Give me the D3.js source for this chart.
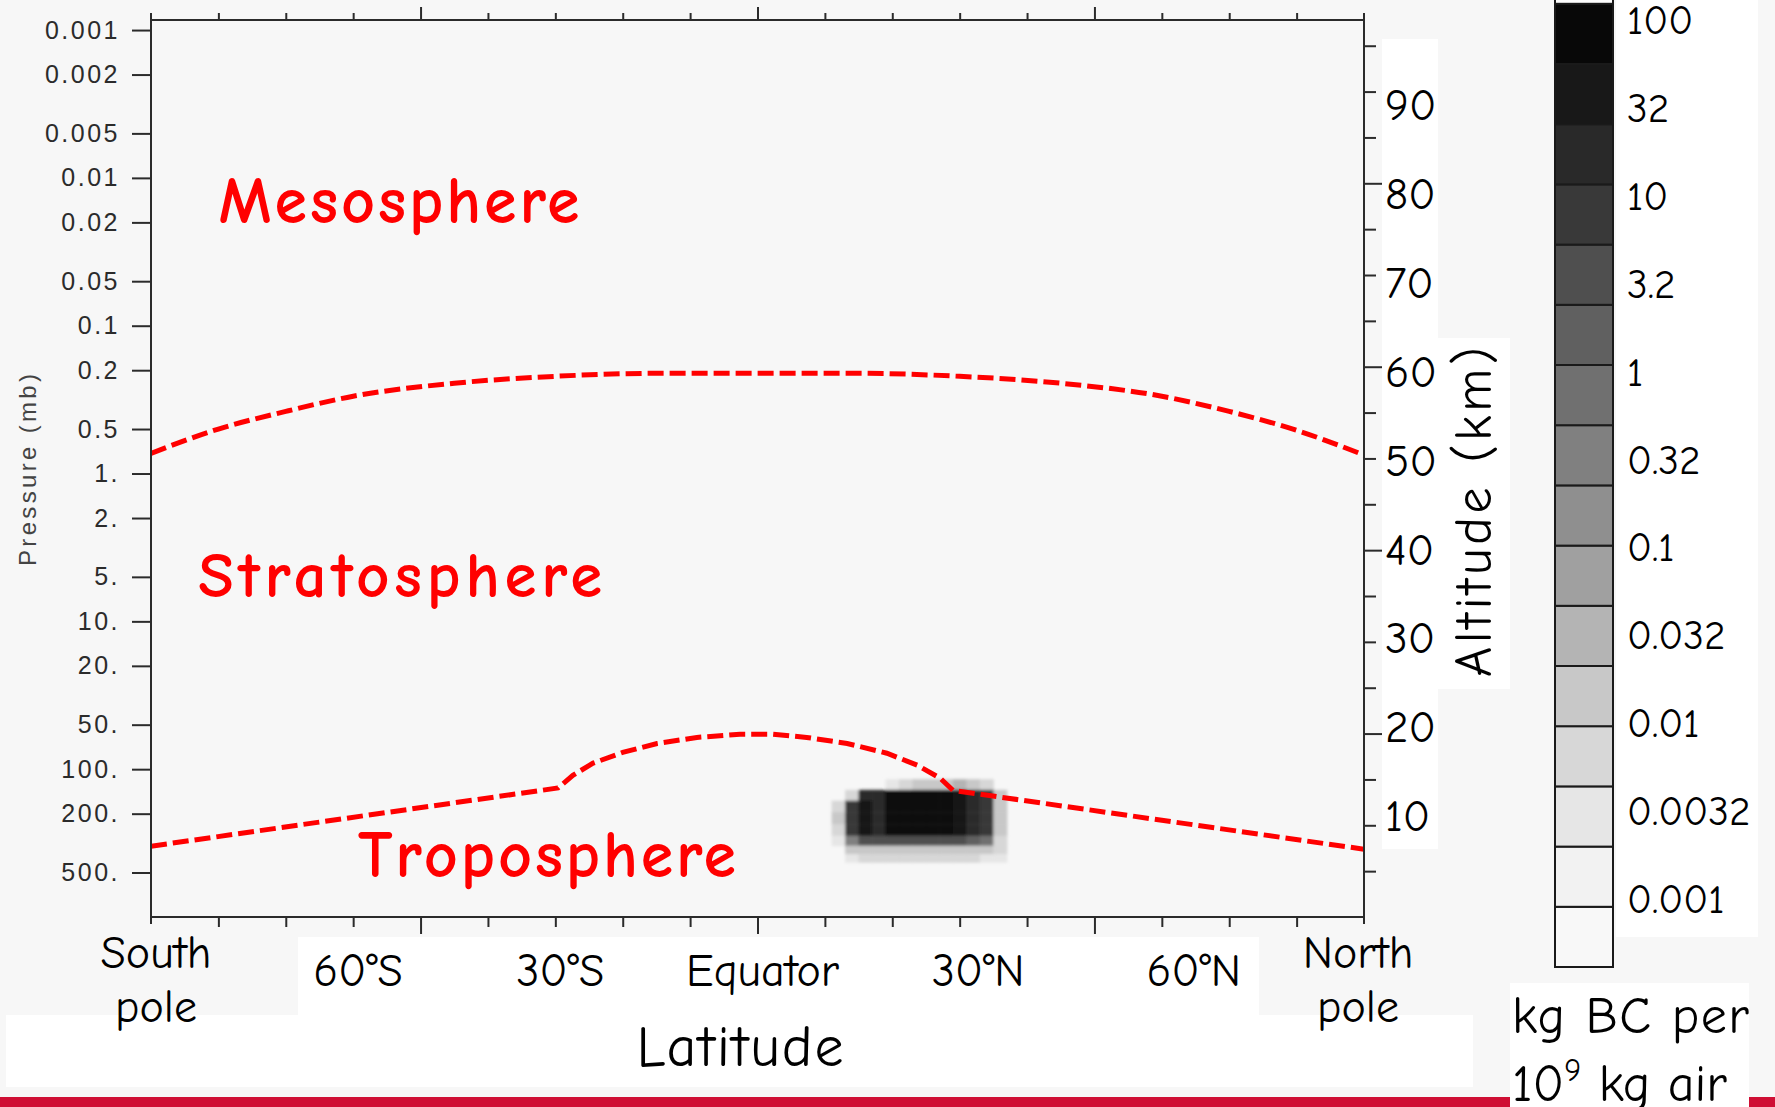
<!DOCTYPE html>
<html><head><meta charset="utf-8">
<script src="https://cdn.jsdelivr.net/npm/d3@7"></script>
<style>
html,body{margin:0;padding:0;background:#f7f7f7;overflow:hidden}
svg{display:block}
</style></head><body>
<svg id="chart" width="1775" height="1107"></svg>
<script>
// ---------------- data ----------------
const pressureTicks = [0.001,0.002,0.005,0.01,0.02,0.05,0.1,0.2,0.5,1,2,5,10,20,50,100,200,500];
const pressureTickLabels = ["0.001","0.002","0.005","0.01","0.02","0.05","0.1","0.2","0.5","1.","2.","5.","10.","20.","50.","100.","200.","500."];
const altitudeLabels = [90,80,70,60,50,40,30,20,10];
const latLabelValues = [-90,-60,-30,0,30,60,90];
const latLabelText = [["South","pole"],["60°S"],["30°S"],["Equator"],["30°N"],["60°N"],["North","pole"]];

// stratopause (upper dashed line): latitude (deg) and pressure (mb)
const stratopauseLat = [-90,-80,-70,-60,-45,-30,-15,0,15,30,45,60,70,80,90];
const stratopauseP   = [0.73,0.50,0.38,0.30,0.245,0.22,0.21,0.21,0.21,0.22,0.245,0.30,0.38,0.51,0.75];
// tropopause (lower dashed line)
const tropopauseLat = [-90,-29.6,-27.4,-24.4,-20,-14.9,-9,-2.6,2.3,7.3,13.3,19.2,23.7,27.1,29,90];
const tropopauseP   = [332,134,110,91,77,67,61,58,58,61,67,78,94,115,139,348];

// black carbon field (kg BC per 1e9 kg air)
const bcLat = [12,14,16,18,20,22,24,26,28,30,32,34,36];
const bcPressure = [127,150,178,215,259,307,353,400];
const bcValues = [
  [0,     0,     0,     0,     0.004, 0.008, 0.01,  0.012, 0.02,  0.03,  0.02,  0.006, 0    ],
  [0,     0.006, 15,    20,    80,    80,    80,    80,    80,    35,    15,    8,     0.01 ],
  [0.008, 8,     30,    15,    80,    80,    80,    80,    80,    35,    15,    7,     0.015],
  [0.01,  8,     30,    15,    80,    80,    80,    80,    80,    35,    15,    7,     0.015],
  [0.008, 7,     25,    15,    80,    80,    80,    80,    80,    35,    15,    6,     0.012],
  [0.004, 0.4,   3,     3,     5,     5,     5,     5,     5,     3,     2,     0.5,   0.008],
  [0,     0.01,  0.015, 0.015, 0.015, 0.015, 0.015, 0.015, 0.015, 0.015, 0.012, 0.01,  0.006],
  [0,     0.004, 0.005, 0.005, 0.005, 0.005, 0.005, 0.005, 0.005, 0.005, 0.005, 0.004, 0.003]
];

// colour bar
const legendThresholds = [0.0009,0.002,0.0043,0.0095,0.021,0.045,0.1,0.22,0.49,1.07,2.3,5.2,11.3,25,54,122];
const legendColors = ["#f8f8f8","#f2f2f2","#e6e6e6","#d7d7d7","#c8c8c8","#b4b4b4","#a0a0a0","#8f8f8f","#808080","#707070","#606060","#4f4f4f","#393939","#292929","#181818","#080808","#fdfdfd"];
const legendLabels = ["100","32","10","3.2","1","0.32","0.1","0.032","0.01","0.0032","0.001"];

// ---------------- drawing ----------------
const svg = d3.select("#chart");
const comic = '"Comic Sans MS","Comic Neue","Open Sans",sans-serif';
const L = 151, R = 1364, T = 20, B = 917;

const x = d3.scaleLinear().domain([-90, 90]).range([L, R]);
const y = d3.scaleLog().domain([0.000855, 1000]).range([T, B]);
// log-pressure altitude (scale height 7 km) for the right-hand tick marks
const zAlt = d3.scaleLinear().domain([0, 7 * Math.log(1000 / 0.000855)]).range([B, T]);
const altLabelY = d3.scaleLinear().domain([10, 90]).range([815, 104]);
const color = d3.scaleThreshold().domain(legendThresholds).range(legendColors);

svg.append("rect").attr("width", 1775).attr("height", 1107).attr("fill", "#f7f7f7");
// footer bar
svg.append("rect").attr("x", 0).attr("y", 1097).attr("width", 1775).attr("height", 10).attr("fill", "#cf0e34");

// white label panels
const panels = [[1382,39,56,810],[1382,338,128,351],[298,937,961,78],[6,1015,1467,72],[1616,0,142,937],[1510,983,239,124]];
svg.selectAll("rect.panel").data(panels).join("rect").attr("class","panel")
  .attr("x", d => d[0]).attr("y", d => d[1]).attr("width", d => d[2]).attr("height", d => d[3])
  .attr("fill", "#ffffff");

// clip + blur
const defs = svg.append("defs");
defs.append("clipPath").attr("id", "plotclip").append("rect")
  .attr("x", L).attr("y", T).attr("width", R - L).attr("height", B - T);
defs.append("filter").attr("id", "soft").attr("x", "-20%").attr("y", "-20%").attr("width", "140%").attr("height", "140%")
  .append("feGaussianBlur").attr("stdDeviation", 1.8);

// heat cells
const dLat = bcLat[1] - bcLat[0];
const nP = bcPressure.length;
const pEdges = bcPressure.map((p, i) => {
  const prev = i > 0 ? bcPressure[i - 1] : p * p / bcPressure[i + 1];
  return Math.sqrt(prev * p);
});
pEdges.push(Math.sqrt(bcPressure[nP - 1] * (bcPressure[nP - 1] ** 2 / bcPressure[nP - 2])));
const cells = [];
bcValues.forEach((row, r) => row.forEach((v, c) => {
  if (v > 0) cells.push({lat: bcLat[c], r, v});
}));
svg.append("g").attr("clip-path", "url(#plotclip)").append("g").attr("filter", "url(#soft)")
  .selectAll("rect").data(cells).join("rect")
  .attr("x", d => x(d.lat - dLat / 2))
  .attr("width", d => x(d.lat + dLat / 2) - x(d.lat - dLat / 2) + 0.5)
  .attr("y", d => y(pEdges[d.r]))
  .attr("height", d => y(pEdges[d.r + 1]) - y(pEdges[d.r]) + 0.5)
  .attr("fill", d => color(d.v));

// dashed boundary lines
const smooth = d3.line().x(d => x(d[0])).y(d => y(d[1])).curve(d3.curveMonotoneX);
const straight = d3.line().x(d => x(d[0])).y(d => y(d[1]));
const lines = svg.append("g").attr("clip-path", "url(#plotclip)");
[[stratopauseLat, stratopauseP, smooth], [tropopauseLat, tropopauseP, straight]].forEach(([la, pr, gen]) => {
  lines.append("path").attr("d", gen(la.map((v, i) => [v, pr[i]])))
    .attr("fill", "none").attr("stroke", "#ff0000").attr("stroke-width", 5)
    .attr("stroke-dasharray", "16,6");
});

// axes
const axCol = "#2b2b2b";
const latTicks = d3.range(-80, 90, 10);
const gB = svg.append("g").attr("transform", `translate(0,${B})`)
  .call(d3.axisBottom(x).tickValues(latTicks).tickFormat("").tickSizeOuter(0));
gB.selectAll(".tick line").attr("y2", d => d % 50 === 0 ? 17 : 10);
const gT = svg.append("g").attr("transform", `translate(0,${T})`)
  .call(d3.axisTop(x).tickValues(latTicks).tickFormat("").tickSizeOuter(0));
gT.selectAll(".tick line").attr("y2", d => d % 50 === 0 ? -13 : -7);
const gL = svg.append("g").attr("transform", `translate(${L},0)`)
  .call(d3.axisLeft(y).tickValues(pressureTicks).tickSize(19).tickPadding(12)
    .tickFormat((d, i) => pressureTickLabels[i]));
gL.selectAll(".tick text").attr("font-family", '"Liberation Sans",Arial,sans-serif')
  .attr("font-size", 25).attr("letter-spacing", 2.5).attr("fill", axCol);
const gR = svg.append("g").attr("transform", `translate(${R},0)`)
  .call(d3.axisRight(zAlt).tickValues(d3.range(5, 100, 5)).tickFormat("").tickSizeOuter(0));
gR.selectAll(".tick line").attr("x2", d => d % 20 === 0 ? 18 : 12);
[gB, gT, gL, gR].forEach(g => {
  g.select(".domain").remove();
  g.selectAll(".tick line").attr("stroke", axCol).attr("stroke-width", 2);
});
// frame
const frame = svg.append("g").attr("stroke", axCol).attr("stroke-width", 2);
frame.append("line").attr("x1", L).attr("x2", R).attr("y1", T).attr("y2", T);
frame.append("line").attr("x1", L).attr("x2", R).attr("y1", B).attr("y2", B);
frame.append("line").attr("x1", L).attr("x2", L).attr("y1", T - 7).attr("y2", B + 7);
frame.append("line").attr("x1", R).attr("x2", R).attr("y1", T - 7).attr("y2", B + 7);

// left axis title
svg.append("text").attr("transform", "translate(36,470) rotate(-90)")
  .attr("text-anchor", "middle").attr("font-family", '"Liberation Sans",Arial,sans-serif')
  .attr("font-size", 24).attr("fill", "#444").attr("textLength", 192).attr("lengthAdjust", "spacing")
  .text("Pressure (mb)");

// region names
const region = (txt, lat, p, size, len) => svg.append("text")
  .attr("x", x(lat)).attr("y", y(p)).attr("font-family", comic).attr("font-weight", 600)
  .attr("font-size", size).attr("fill", "#ff0000").attr("textLength", len).attr("lengthAdjust", "spacing")
  .text(txt);
region("Mesosphere", -80, 0.0202, 66, 361);
region("Stratosphere", -83, 6.86, 65, 404);
region("Troposphere", -59.3, 538, 66, 378);

// latitude labels
const latG = svg.append("g").attr("font-family", comic).attr("font-size", 46).attr("fill", "#000").attr("text-anchor", "middle");
latLabelValues.forEach((v, i) => {
  const t = latLabelText[i];
  const cx = x(v) + (v > 0 && v < 90 ? 5 + v * 0.45 : (v === 90 ? -6 : 5));
  if (t.length === 2) {
    latG.append("text").attr("x", cx).attr("y", 968).text(t[0]);
    latG.append("text").attr("x", cx).attr("y", 1022).text(t[1]);
  } else {
    latG.append("text").attr("x", cx).attr("y", 986).text(t[0]);
  }
});
svg.append("text").attr("x", 740).attr("y", 1066).attr("text-anchor", "middle")
  .attr("font-family", comic).attr("font-size", 58).attr("fill", "#000")
  .attr("textLength", 207).attr("lengthAdjust", "spacing").text("Latitude");

// altitude labels
svg.append("g").selectAll("text").data(altitudeLabels).join("text")
  .attr("x", 1385).attr("y", d => altLabelY(d)).attr("dy", "0.36em")
  .attr("font-family", comic).attr("font-size", 45).attr("fill", "#000").text(d => d);
svg.append("text").attr("transform", "translate(1491,512) rotate(-90)")
  .attr("text-anchor", "middle").attr("font-family", comic).attr("font-size", 52).attr("fill", "#000")
  .attr("textLength", 330).attr("lengthAdjust", "spacing").text("Altitude (km)");

// colour bar (index 0 = lowest level, drawn at the bottom)
const band = d3.scaleBand().domain(d3.range(legendColors.length)).range([967, 967 - 60.2 * legendColors.length]);
svg.append("g").selectAll("rect").data(legendColors).join("rect")
  .attr("x", 1555).attr("width", 58)
  .attr("y", (d, i) => band(i))
  .attr("height", band.bandwidth())
  .attr("fill", d => d).attr("stroke", "#1a1a1a").attr("stroke-width", 2);
const labY = d3.scalePoint().domain(legendLabels).range([19.5, 898]);
svg.append("g").selectAll("text").data(legendLabels).join("text")
  .attr("x", 1627).attr("y", d => labY(d)).attr("dy", "0.36em")
  .attr("font-family", comic).attr("font-size", 41).attr("fill", "#000").text(d => d);

// unit label
const u = svg.append("g").attr("font-family", comic).attr("font-size", 52).attr("fill", "#000");
u.append("text").attr("x", 1512).attr("y", 1033).attr("textLength", 237).attr("lengthAdjust", "spacing").text("kg BC per");
const u2 = u.append("text").attr("x", 1512).attr("y", 1101);
u2.append("tspan").text("10");
u2.append("tspan").attr("font-size", 32).attr("dy", -20).text("9");
u2.append("tspan").attr("dy", 20).text(" kg air");
</script>
</body></html>
